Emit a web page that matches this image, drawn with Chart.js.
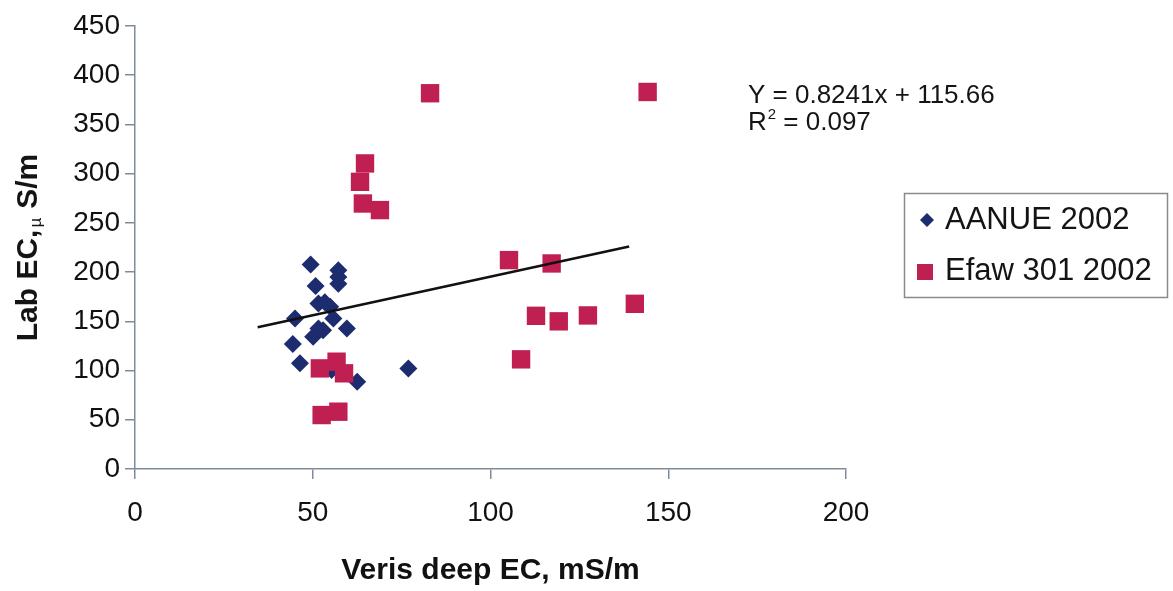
<!DOCTYPE html>
<html>
<head>
<meta charset="utf-8">
<script src="https://cdn.jsdelivr.net/npm/chart.js@4.4.0/dist/chart.umd.min.js"></script>
<style>
  html, body { margin: 0; padding: 0; background: #ffffff; }
  #wrap { width: 1173px; height: 591px; }
</style>
</head>
<body>
<div id="wrap"><canvas id="chart" width="1173" height="591"></canvas></div>
<script>
// values
const aanueX = [49.4, 57.2, 57.2, 57.2, 50.8, 51.6, 54.9, 53.4, 55.8, 45.0, 51.6, 50.1, 59.6, 52.9, 44.4, 46.4, 55.3, 62.5, 76.9];
const aanueY = [207.8, 202, 195, 188.3, 185.8, 168.2, 164.8, 169.5, 153, 153, 142.8, 134.3, 142.8, 141, 126.9, 107.3, 100.5, 88.6, 102.2];

const efawX = [83.0, 144.2, 64.7, 63.3, 64.1, 68.9, 105.2, 117.2, 112.8, 119.2, 127.4, 140.6, 108.6, 52.0, 56.7, 58.8, 52.5, 57.2];
const efawY = [381.7, 383, 310.4, 291.7, 269.7, 263, 212.2, 208.8, 155.6, 150, 156, 167.8, 111.4, 102.2, 109, 97.2, 54.8, 58.2];

// trend line end points as drawn in the figure
const trendX = [34.5, 139];
const trendY = [144, 226];

const xTicks = [0, 50, 100, 150, 200];
const yTicks = [0, 50, 100, 150, 200, 250, 300, 350, 400, 450];

const seriesNames = ['AANUE 2002', 'Efaw 301 2002'];
const equationText = 'Y = 0.8241x + 115.66';
const r2Text = ' = 0.097';

const BLUE = '#1c2c6e';
const RED = '#c01f52';
const AXIS = '#7d8c9c';
const FONT = '"Liberation Sans", Arial, Helvetica, sans-serif';

function toPoints(xs, ys) {
    return xs.map((x, i) => ({ x, y: ys[i] }));
}

// Equation, legend box and the y title with its small mu
const extras = {
    id: 'extras',
    beforeDraw(chart) {
        const ctx = chart.ctx;
        ctx.save();
        ctx.fillStyle = '#ffffff';
        ctx.fillRect(0, 0, chart.width, chart.height);
        ctx.restore();
    },
    afterDraw(chart) {
        const ctx = chart.ctx;
        ctx.save();
        ctx.fillStyle = '#141414';
        ctx.textBaseline = 'alphabetic';
        ctx.textAlign = 'left';
        ctx.font = '26px ' + FONT;
        ctx.fillText(equationText, 748, 103);
        ctx.fillText('R', 748, 130);
        const rw = ctx.measureText('R').width;
        ctx.font = '15px ' + FONT;
        ctx.fillText('2', 748 + rw + 1, 119);
        const sw = ctx.measureText('2').width;
        ctx.font = '26px ' + FONT;
        ctx.fillText(r2Text, 748 + rw + sw + 1, 130);

        // legend
        ctx.strokeStyle = '#8a8a8a';
        ctx.lineWidth = 1.5;
        ctx.strokeRect(904.5, 193.5, 263, 104);
        ctx.fillStyle = BLUE;
        ctx.beginPath();
        ctx.moveTo(927, 213); ctx.lineTo(934, 220); ctx.lineTo(927, 227); ctx.lineTo(920, 220);
        ctx.closePath();
        ctx.fill();
        ctx.fillStyle = RED;
        ctx.fillRect(917, 264, 16, 16);
        ctx.fillStyle = '#141414';
        ctx.font = '31px ' + FONT;
        ctx.textBaseline = 'middle';
        ctx.fillText(seriesNames[0], 945, 220);
        ctx.fillText(seriesNames[1], 945, 271);

        // y axis title: "Lab EC,µ S/m"
        const area = chart.chartArea;
        const cy = (area.top + area.bottom) / 2;
        const bold = 'bold 30px ' + FONT;
        const small = '17px ' + FONT;
        ctx.font = bold;
        const w1 = ctx.measureText('Lab EC,').width;
        const w3 = ctx.measureText('S/m').width;
        ctx.font = small;
        const w2 = ctx.measureText('\u00b5').width;
        const gap = 9;
        const total = w1 + 2 + w2 + gap + w3;
        ctx.translate(29, cy);
        ctx.rotate(-Math.PI / 2);
        ctx.textBaseline = 'middle';
        let pos = -total / 2;
        ctx.font = bold;
        ctx.fillText('Lab EC,', pos, 0);
        pos += w1 + 2;
        ctx.font = small;
        ctx.fillText('\u00b5', pos, 7);
        pos += w2 + gap;
        ctx.font = bold;
        ctx.fillText('S/m', pos, 0);
        ctx.restore();
    }
};

const ctx = document.getElementById('chart');

new Chart(ctx, {
    type: 'scatter',
    data: {
        datasets: [
            {
                label: 'trend',
                type: 'line',
                data: toPoints(trendX, trendY),
                borderColor: '#111111',
                borderWidth: 2.5,
                pointRadius: 0,
                fill: false,
                order: 0
            },
            {
                label: seriesNames[1],
                data: toPoints(efawX, efawY),
                pointStyle: 'rect',
                pointRadius: 13,
                backgroundColor: RED,
                borderColor: RED,
                borderWidth: 0,
                order: 1
            },
            {
                label: seriesNames[0],
                data: toPoints(aanueX, aanueY),
                pointStyle: 'rectRot',
                pointRadius: 9,
                backgroundColor: BLUE,
                borderColor: BLUE,
                borderWidth: 0,
                order: 2
            }
        ]
    },
    options: {
        responsive: false,
        animation: false,
        events: [],
        layout: {
            padding: { top: 26, right: 327, left: 0, bottom: 0 }
        },
        plugins: {
            legend: { display: false },
            tooltip: { enabled: false }
        },
        scales: {
            x: {
                type: 'linear',
                min: 0,
                max: 200,
                afterBuildTicks: scale => { scale.ticks = xTicks.map(v => ({ value: v })); },
                afterFit: scale => { scale.height = 122; },
                border: { display: true, color: AXIS, width: 1.5 },
                grid: { drawOnChartArea: false, drawTicks: true, tickLength: 10, color: AXIS, lineWidth: 1.5 },
                ticks: { color: '#111111', padding: 17, font: { family: FONT, size: 28 } },
                title: {
                    display: true,
                    text: 'Veris deep EC, mS/m',
                    color: '#111111',
                    font: { family: FONT, size: 30, weight: 'bold' },
                    padding: { top: 0, bottom: 2 }
                }
            },
            y: {
                type: 'linear',
                min: 0,
                max: 450,
                afterBuildTicks: scale => { scale.ticks = yTicks.map(v => ({ value: v })); },
                afterFit: scale => { scale.width = 135; },
                border: { display: true, color: AXIS, width: 1.5 },
                grid: { drawOnChartArea: false, drawTicks: true, tickLength: 10, color: AXIS, lineWidth: 1.5 },
                ticks: { color: '#111111', padding: 5, font: { family: FONT, size: 28 } }
            }
        }
    },
    plugins: [extras]
});
</script>
</body>
</html>
